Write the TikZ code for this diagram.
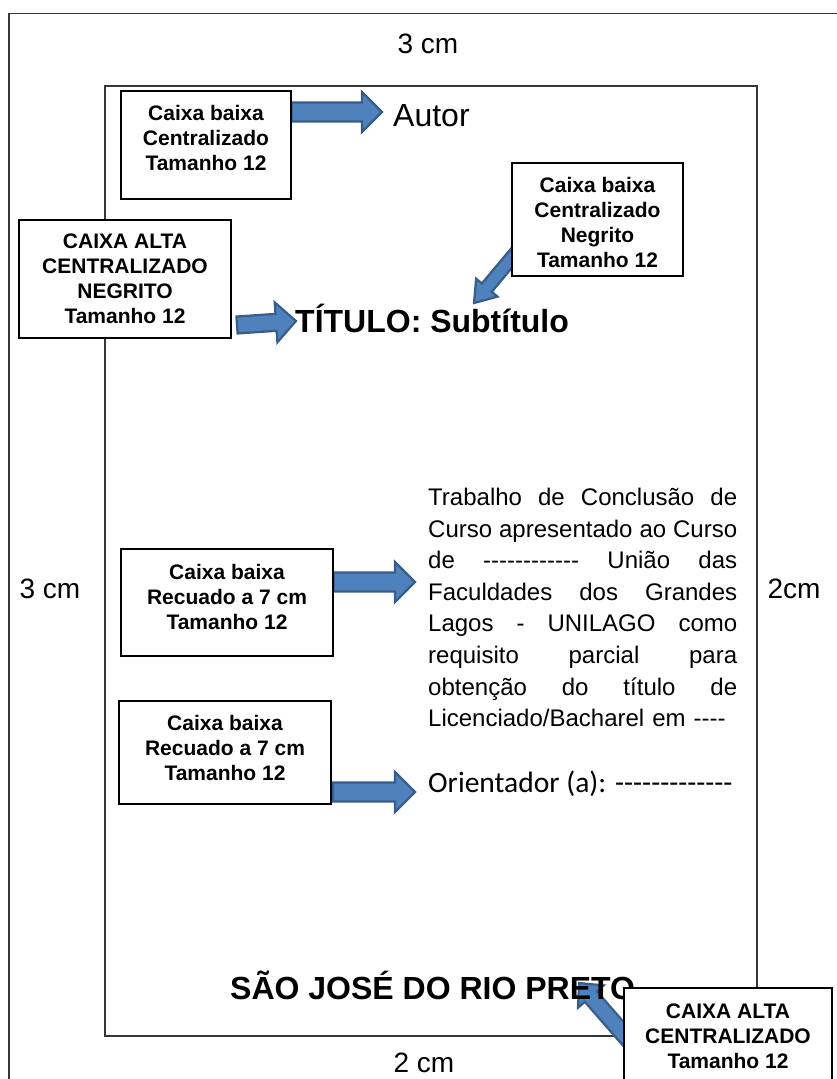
\documentclass[tikz,border=0pt]{standalone}
\usepackage{fontspec}
\setmainfont{Liberation Sans}
\newfontfamily\calibri{Carlito}
\usetikzlibrary{calc,backgrounds}

\definecolor{arrowfill}{RGB}{79,129,189}
\definecolor{arrowline}{RGB}{56,93,138}
\definecolor{frameline}{RGB}{55,55,55}

% a run of separate hyphens (kept apart so they never join into dashes)
\newcommand{\dashes}[1]{\foreach \i in {1,...,#1}{-\kern0pt}}
% one justified line of the note
\newcommand{\jline}[1]{\leavevmode\hbox to 309pt{#1}}

% block arrow: #1 shaft half-width, #2 head half-width, #3 head length, #4 tail, #5 tip
\newcommand{\blockarrow}[5]{%
  \path ($(#5)!#3!(#4)$) coordinate (bahead);
  \filldraw[barrow]
    ($(#4)!#1!90:(#5)$) -- ($(bahead)!#1!90:(#5)$) -- ($(bahead)!#2!90:(#5)$)
    -- (#5)
    -- ($(bahead)!#2!-90:(#5)$) -- ($(bahead)!#1!-90:(#5)$) -- ($(#4)!#1!-90:(#5)$)
    -- cycle;
}

\begin{document}
\begin{tikzpicture}[x=1pt,y=-1pt,
  box/.style={draw=black, line width=1.2pt, fill=white, inner sep=0pt},
  boxtext/.style={font=\bfseries\fontsize{21}{25}\selectfont, align=center, inner sep=0pt},
  margin/.style={font=\fontsize{28}{32}\selectfont, inner sep=0pt, anchor=base},
  body/.style={inner sep=0pt, anchor=base west},
  barrow/.style={fill=arrowfill, draw=arrowline, line width=2.2pt, line join=miter}]

\useasboundingbox (0,0) rectangle (836,1079);
\clip (0,0) rectangle (836,1079);

% sheet edge and text area
\begin{scope}[on background layer]
  \draw[frameline, line width=1.5pt] (9,1090) -- (9,13.5) -- (850,13.5);
  \draw[frameline, line width=1.3pt] (105,86) rectangle (757,1036);
\end{scope}

% margin sizes
\node[margin] (mtop) at (428,53) {3 cm};
\node[margin] (mleft) at (50,598) {3 cm};
\node[margin] (mright) at (794,598) {2cm};
\node[margin] (mbottom) at (424,1072) {2 cm};

% cover page contents
\node[body, font=\fontsize{32}{38}\selectfont] (autor) at (393,126) {Autor};
\node[body, font=\bfseries\fontsize{32}{38}\selectfont] (titulo) at (295,332) {TÍTULO: Subtítulo};
\node[body, font=\fontsize{24}{31.6}\selectfont, text width=309pt, align=left] (nota) at (428,505.5)
  {\jline{Trabalho\hfill de\hfill Conclusão\hfill de}\\
   \jline{Curso\hfill apresentado\hfill ao\hfill Curso}\\
   \jline{de\hfill \dashes{12}\hfill União\hfill das}\\
   \jline{Faculdades\hfill dos\hfill Grandes}\\
   \jline{Lagos\hfill -\hfill UNILAGO\hfill como}\\
   \jline{requisito\hfill parcial\hfill para}\\
   \jline{obtenção\hfill do\hfill título\hfill de}\\
   Licenciado/Bacharel em \dashes{4}};
\node[body, font=\calibri\fontsize{29.5}{34}\selectfont] (orient) at (428,792) {Orientador (a): \dashes{13}};
\node[body, font=\bfseries\fontsize{32}{38}\selectfont] (cidade) at (230,999) {SÃO JOSÉ DO RIO PRETO};

% annotation boxes
\node[box, minimum width=170pt, minimum height=108pt] (b1) at (206,145) {};
\node[boxtext] (b1t) at (206,138) {Caixa baixa\\Centralizado\\Tamanho 12};

\node[box, minimum width=212pt, minimum height=118pt] (b2) at (125,279) {};
\node[boxtext] (b2t) at (125,279) {CAIXA ALTA\\CENTRALIZADO\\NEGRITO\\Tamanho 12};

\node[box, minimum width=171pt, minimum height=113pt] (b3) at (597.5,219.5) {};
\node[boxtext] (b3t) at (597.5,222.5) {Caixa baixa\\Centralizado\\Negrito\\Tamanho 12};

\node[box, minimum width=212pt, minimum height=107pt] (b4) at (227,602.5) {};
\node[boxtext] (b4t) at (227,596.5) {Caixa baixa\\Recuado a 7 cm\\Tamanho 12};

\node[box, minimum width=212pt, minimum height=103pt] (b5) at (225,752.5) {};
\node[boxtext] (b5t) at (225,748) {Caixa baixa\\Recuado a 7 cm\\Tamanho 12};

\node[box, minimum width=208pt, minimum height=120pt] (b6) at (728,1048) {};
\node[boxtext] (b6t) at (728,1036) {CAIXA ALTA\\CENTRALIZADO\\Tamanho 12};

% arrow end points
\coordinate (a1tip) at (382,112);
\coordinate (a2tail) at (237,325);
\coordinate (a2tip) at (296,321);
\coordinate (a3tail) at (525,242);
\coordinate (a3tip) at (474,303);
\coordinate (a4tip) at (415,582);
\coordinate (a5tail) at (333,792);
\coordinate (a5tip) at (415,792);
\coordinate (a6tail) at (634,1046);
\coordinate (a6tip) at (579,983);

% block arrows from each box to the text it describes
\begin{scope}[on background layer]
  \blockarrow{9.5pt}{20pt}{20pt}{b1.east |- a1tip}{a1tip}
  \blockarrow{8.5pt}{20pt}{20pt}{a2tail}{a2tip}
  \blockarrow{6.5pt}{14pt}{20pt}{a3tail}{a3tip}
  \blockarrow{9.5pt}{20pt}{20pt}{b4.east |- a4tip}{a4tip}
  \blockarrow{9.5pt}{20pt}{20pt}{a5tail}{a5tip}
  \blockarrow{8pt}{17pt}{18pt}{a6tail}{a6tip}
\end{scope}
\end{tikzpicture}
\end{document}
